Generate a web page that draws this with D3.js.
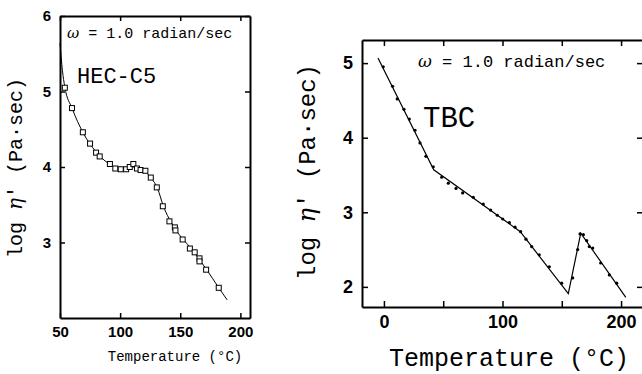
<!DOCTYPE html>
<html lang="en">
<head>
  <meta charset="UTF-8">
  <title>log eta' vs Temperature</title>
  <script src="https://d3js.org/d3.v7.min.js"></script>
  <style>
    body { margin: 0; background: #fff; }
    svg { display: block; }
    .tick text { font-family: "Liberation Sans", Arial, sans-serif; font-weight: bold; fill: #000; }
    .mono { font-family: "Liberation Mono", "Courier New", monospace; fill: #000; }
    .greek { font-family: "DejaVu Serif", "Liberation Serif", serif; font-style: italic; }
  </style>
</head>
<body>
  <svg width="642" height="374"></svg>

  <script>
    // HEC-C5 : measured points (open squares) and the fitted curve
    const hecPoints = [
      [54, 5.05], [60, 4.78], [69, 4.46], [75, 4.31], [80, 4.19], [83, 4.14],
      [91.5, 4.04], [96, 3.98], [100.5, 3.97], [105, 3.97], [108, 4.0], [111, 4.04],
      [114, 3.98], [117, 3.96], [121, 3.95], [125.5, 3.86], [130.5, 3.73],
      [135.5, 3.48], [141, 3.28], [145.5, 3.2], [146, 3.16], [152, 3.04],
      [158, 2.92], [162, 2.87], [166, 2.79], [166, 2.75], [171.5, 2.64], [182, 2.4]
    ];
    const hecCurve = [
      [50, 5.64], [52, 5.28], [54, 5.06], [60, 4.78], [69, 4.46], [80, 4.2],
      [90, 4.05], [100, 3.98], [108, 4.0], [113, 4.0], [120, 3.95], [126, 3.85],
      [131, 3.72], [136, 3.48], [145, 3.2], [160, 2.9], [172, 2.64], [182, 2.4], [189, 2.24]
    ];
    const hecXTicks = [50, 100, 150, 200];
    const hecYTicks = [3, 4, 5, 6];

    // TBC : measured points (dots) and the broken line
    const tbcPoints = [
      [-0.6, 4.95], [7.3, 4.69], [11.2, 4.52], [16.9, 4.38], [21.4, 4.25], [26.2, 4.1],
      [30.4, 3.93], [35.4, 3.75], [41.6, 3.61], [48.7, 3.47], [54.3, 3.39], [60.8, 3.32],
      [66.4, 3.26], [75.4, 3.2], [83.8, 3.11], [90, 3.03], [95.6, 2.96], [100.2, 2.91],
      [105.8, 2.86], [110.6, 2.8], [115.3, 2.74], [119.8, 2.64], [124.6, 2.54],
      [131, 2.43], [139.5, 2.27], [149.9, 2.05], [159.2, 2.12], [163.4, 2.5],
      [165.4, 2.71], [168.2, 2.7], [171, 2.62], [173.2, 2.54], [176.1, 2.52],
      [182.8, 2.32], [190.1, 2.16], [196.3, 2.05]
    ];
    const tbcLine = [[-5, 5.07], [42, 3.57], [115, 2.74], [155.5, 1.91], [166, 2.72], [204, 1.86]];
    const tbcXTicks = [0, 50, 100, 150, 200];
    const tbcXLabels = [0, 100, 200];
    const tbcYTicks = [2, 3, 4, 5];

    const svg = d3.select("svg");

    function frame(x, y, xTicks, yTicks, xFmt, fontSize, tick) {
      const [x0, x1] = x.range();
      const [y0, y1] = y.range();
      const g = svg.append("g");
      g.append("g").attr("transform", `translate(0,${y0})`)
        .call(d3.axisBottom(x).tickValues(xTicks).tickSize(-tick).tickSizeOuter(0).tickPadding(8).tickFormat(xFmt));
      g.append("g").attr("transform", `translate(0,${y1})`)
        .call(d3.axisTop(x).tickValues(xTicks).tickSize(-tick).tickSizeOuter(0).tickFormat(""));
      g.append("g").attr("transform", `translate(${x0},0)`)
        .call(d3.axisLeft(y).tickValues(yTicks).tickSize(-tick).tickSizeOuter(0).tickPadding(9).tickFormat(d3.format("d")));
      g.append("g").attr("transform", `translate(${x1},0)`)
        .call(d3.axisRight(y).tickValues(yTicks).tickSize(-tick).tickSizeOuter(0).tickFormat(""));
      g.selectAll(".domain").attr("stroke", "#000").attr("stroke-width", 2);
      g.selectAll(".tick line").attr("stroke", "#000").attr("stroke-width", 1.5);
      g.selectAll(".tick text").style("font-size", fontSize + "px");
      return g;
    }

    // ---- left panel: HEC-C5 ----
    const x1 = d3.scaleLinear().domain([50, 208]).range([60, 250]);
    const y1 = d3.scaleLinear().domain([2, 6]).range([318, 16]);
    frame(x1, y1, hecXTicks, hecYTicks, d3.format("d"), 15, 5);

    svg.append("path")
      .datum(hecCurve)
      .attr("fill", "none").attr("stroke", "#000").attr("stroke-width", 1)
      .attr("d", d3.line().x(d => x1(d[0])).y(d => y1(d[1])).curve(d3.curveMonotoneX));

    svg.selectAll(".sq")
      .data(hecPoints)
      .enter().append("rect")
        .attr("class", "sq")
        .attr("x", d => x1(d[0]) - 2.5).attr("y", d => y1(d[1]) - 2.5)
        .attr("width", 5).attr("height", 5)
        .attr("fill", "#fff").attr("stroke", "#000").attr("stroke-width", 1);

    const om1 = svg.append("text").attr("class", "mono").attr("x", 67).attr("y", 38).style("font-size", "15px");
    om1.append("tspan").attr("class", "greek").text("ω");
    om1.append("tspan").text(" = 1.0 radian/sec");
    svg.append("text").attr("class", "mono").attr("x", 77).attr("y", 83).style("font-size", "22px").text("HEC-C5");

    svg.append("text").attr("class", "mono").attr("text-anchor", "middle")
      .attr("x", 175).attr("y", 361).style("font-size", "14px").text("Temperature (°C)");
    const yl1 = svg.append("text").attr("class", "mono").attr("text-anchor", "middle")
      .attr("transform", "translate(22,168) rotate(-90)").style("font-size", "20px");
    yl1.append("tspan").text("log ");
    yl1.append("tspan").attr("class", "greek").text("η");
    yl1.append("tspan").text("' (Pa·sec)");

    // ---- right panel: TBC ----
    const x2 = d3.scaleLinear().domain([-18.5, 218.5]).range([362, 643]);
    const y2 = d3.scaleLinear().domain([1.73, 5.31]).range([307, 40]);
    frame(x2, y2, tbcXTicks, tbcYTicks, d => tbcXLabels.includes(d) ? d : "", 18, 6);

    svg.append("path")
      .datum(tbcLine)
      .attr("fill", "none").attr("stroke", "#000").attr("stroke-width", 1.2)
      .attr("d", d3.line().x(d => x2(d[0])).y(d => y2(d[1])));

    svg.selectAll(".dot")
      .data(tbcPoints)
      .enter().append("circle")
        .attr("class", "dot")
        .attr("cx", d => x2(d[0])).attr("cy", d => y2(d[1]))
        .attr("r", 1.6).attr("fill", "#000");

    const om2 = svg.append("text").attr("class", "mono").attr("x", 418).attr("y", 67).style("font-size", "17px");
    om2.append("tspan").attr("class", "greek").text("ω");
    om2.append("tspan").text(" = 1.0 radian/sec");
    svg.append("text").attr("class", "mono").attr("x", 423).attr("y", 127).style("font-size", "29px").text("TBC");

    svg.append("text").attr("class", "mono").attr("text-anchor", "middle")
      .attr("x", 509).attr("y", 366).style("font-size", "25px").text("Temperature (°C)");
    const yl2 = svg.append("text").attr("class", "mono").attr("text-anchor", "middle")
      .attr("transform", "translate(315,172) rotate(-90)").style("font-size", "24px");
    yl2.append("tspan").text("log ");
    yl2.append("tspan").attr("class", "greek").text("η");
    yl2.append("tspan").text("' (Pa·sec)");
  </script>
</body>
</html>
